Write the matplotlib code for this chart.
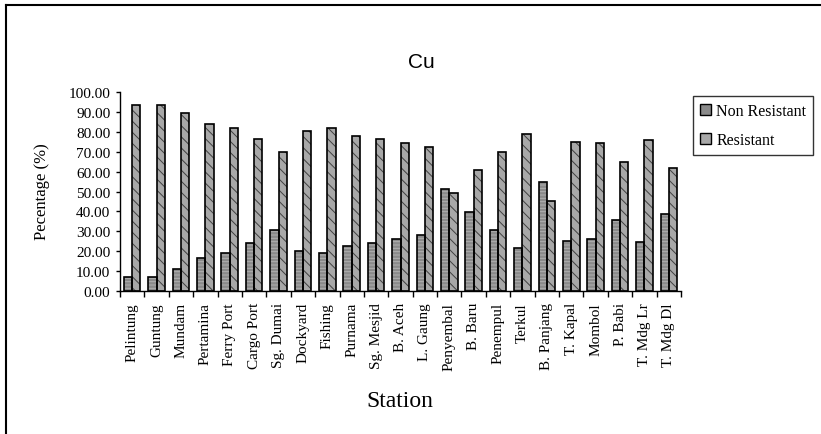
import matplotlib
matplotlib.use("Agg")
import matplotlib.pyplot as plt
from matplotlib.lines import Line2D
from matplotlib.patches import Patch
import numpy as np

stations = ["Pelintung", "Guntung", "Mundam", "Pertamina", "Ferry Port", "Cargo Port",
            "Sg. Dumai", "Dockyard", "Fishing", "Purnama", "Sg. Mesjid", "B. Aceh",
            "L. Gaung", "Penyembal", "B. Baru", "Penempul", "Terkul", "B. Panjang",
            "T. Kapal", "Mombol", "P. Babi", "T. Mdg Lr", "T. Mdg Dl"]
non_resistant = [6.9, 7.0, 11.0, 16.6, 18.9, 24.1, 30.6, 20.3, 18.9, 22.4, 24.1, 26.2,
                 28.3, 51.3, 39.5, 30.5, 21.7, 54.9, 25.3, 26.2, 35.8, 24.5, 38.7]
resistant = [93.5, 93.5, 89.3, 84.0, 81.8, 76.4, 70.0, 80.2, 81.8, 78.0, 76.4, 74.2,
             72.2, 49.1, 61.0, 70.0, 78.7, 45.4, 75.0, 74.2, 64.6, 75.9, 61.6]
ytick_values = list(range(0, 101, 10))

n = len(stations)

plt.rcParams['hatch.linewidth'] = 0.7
W, H = 821, 435
fig = plt.figure(figsize=(W / 100, H / 100), dpi=100)
ax = fig.add_axes([120 / W, 1 - 292 / H, (681 - 120) / W, (292 - 93) / H])

x = np.arange(n)
bw = 0.34
nr_fill, nr_hatch = "#8a8a8a", "#b0b0b0"
r_fill, r_hatch = "#a8a8a8", "#404040"

ax.bar(x - bw / 2, non_resistant, bw, color=nr_fill, edgecolor=nr_hatch, hatch="-----", linewidth=0, zorder=2)
ax.bar(x - bw / 2, non_resistant, bw, fill=False, edgecolor="black", linewidth=1.2, zorder=3)
ax.bar(x + bw / 2, resistant, bw, color=r_fill, edgecolor=r_hatch, hatch="\\\\\\", linewidth=0, zorder=2)
ax.bar(x + bw / 2, resistant, bw, fill=False, edgecolor="black", linewidth=1.2, zorder=3)

ax.set_xlim(-0.5, n - 0.5)
ax.set_ylim(0, 100)
ax.set_yticks(ytick_values)
ax.set_yticklabels([f"{v:.2f}" for v in ytick_values], family="Liberation Serif", fontsize=11)
ax.set_xticks(x)
ax.set_xticklabels(stations, rotation=90, family="Liberation Serif", fontsize=11)
ax.set_xticks(np.arange(-0.5, n, 1.0), minor=True)
ax.tick_params(axis="x", which="major", length=0, pad=8)
ax.tick_params(axis="x", which="minor", length=4, width=1, direction="out")
ax.tick_params(axis="y", length=3, width=1, direction="out", pad=4)

for s in ["top", "right"]:
    ax.spines[s].set_visible(False)
for s in ["left", "bottom"]:
    ax.spines[s].set_linewidth(1.0)

fig.text(421 / W, 1 - 63 / H, "Cu", ha="center", va="center", family="Liberation Sans", fontsize=15)
fig.text(42 / W, 1 - 192 / H, "Pecentage (%)", rotation=90, ha="center", va="center",
         family="Liberation Serif", fontsize=12)
fig.text(400 / W, 1 - 402 / H, "Station", ha="center", va="center", family="Liberation Serif", fontsize=17)

handles = [Patch(facecolor=nr_fill, edgecolor="black", linewidth=1.0),
           Patch(facecolor=r_fill, edgecolor="black", linewidth=1.0)]
leg = fig.legend(handles, ["Non Resistant", "Resistant"], loc="upper left",
                 bbox_to_anchor=(693 / W, 1 - 97 / H), borderaxespad=0,
                 prop={"family": "Liberation Serif", "size": 11.5},
                 frameon=True, fancybox=False, edgecolor="black",
                 handlelength=0.7, handleheight=0.7, handletextpad=0.3,
                 labelspacing=0.8, borderpad=0.45)
leg.get_frame().set_linewidth(1.0)

# outer frame (left and top edges visible)
fig.add_artist(Line2D([6 / W, 6 / W], [0, 1 - 6 / H], transform=fig.transFigure, color="black", linewidth=1.5))
fig.add_artist(Line2D([6 / W, 1], [1 - 6 / H, 1 - 6 / H], transform=fig.transFigure, color="black", linewidth=1.5))

fig.savefig("out.png", dpi=100)
